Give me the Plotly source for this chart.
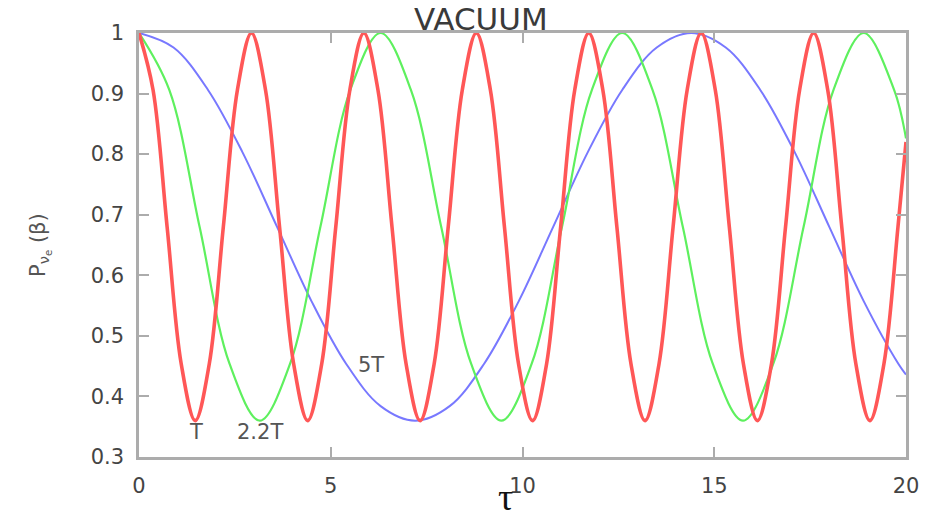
import plotly.graph_objects as go

# Survival probability vs tau for three oscillation periods
red_x = [0, 0.367, 0.733, 1.100, 1.466, 1.833, 2.199, 2.566, 2.932, 3.299, 3.665, 4.032,
         4.398, 4.765, 5.131, 5.498, 5.864, 6.231, 6.597, 6.964, 7.330, 7.697, 8.063, 8.430,
         8.796, 9.163, 9.529, 9.896, 10.262, 10.629, 10.995, 11.362, 11.728, 12.095, 12.461,
         12.828, 13.194, 13.561, 13.927, 14.294, 14.660, 15.027, 15.393, 15.760, 16.126,
         16.493, 16.859, 17.226, 17.592, 17.959, 18.325, 18.692, 19.058, 19.425, 19.791, 20.0]
red_y = [1, 0.906, 0.68, 0.454, 0.36, 0.454, 0.68, 0.906,
         1, 0.906, 0.68, 0.454, 0.36, 0.454, 0.68, 0.906,
         1, 0.906, 0.68, 0.454, 0.36, 0.454, 0.68, 0.906,
         1, 0.906, 0.68, 0.454, 0.36, 0.454, 0.68, 0.906,
         1, 0.906, 0.68, 0.454, 0.36, 0.454, 0.68, 0.906,
         1, 0.906, 0.68, 0.454, 0.36, 0.454, 0.68, 0.906,
         1, 0.906, 0.68, 0.454, 0.36, 0.454, 0.68, 0.82]

green_x = [0, 0.79, 1.58, 2.36, 3.15, 3.94, 4.73, 5.51, 6.30, 7.09, 7.88, 8.66, 9.45,
           10.24, 11.03, 11.81, 12.60, 13.39, 14.18, 14.96, 15.75, 16.54, 17.33, 18.11,
           18.90, 19.69, 20.0]
green_y = [1, 0.906, 0.68, 0.454, 0.36, 0.454, 0.68, 0.906,
           1, 0.906, 0.68, 0.454, 0.36, 0.454, 0.68, 0.906,
           1, 0.906, 0.68, 0.454, 0.36, 0.454, 0.68, 0.906,
           1, 0.906, 0.826]

blue_x = [0, 0.9, 1.8, 2.7, 3.6, 4.5, 5.4, 6.3, 7.2, 8.1, 9.0, 9.9, 10.8, 11.7, 12.6,
          13.5, 14.4, 15.3, 16.2, 17.1, 18.0, 18.9, 19.8, 20.0]
blue_y = [1, 0.976, 0.906, 0.803, 0.68, 0.557, 0.454, 0.384,
          0.36, 0.384, 0.454, 0.557, 0.68, 0.803, 0.906, 0.976,
          1, 0.976, 0.906, 0.803, 0.68, 0.557, 0.454, 0.436]

x_ticks = [0, 5, 10, 15, 20]
y_ticks = [0.3, 0.4, 0.5, 0.6, 0.7, 0.8, 0.9, 1.0]
y_tick_labels = ["0.3", "0.4", "0.5", "0.6", "0.7", "0.8", "0.9", "1"]

curve_labels = ["T", "2.2T", "5T"]
curve_label_x = [1.48, 3.16, 6.06]
curve_label_y = [0.342, 0.342, 0.452]

fig = go.Figure()
fig.add_trace(go.Scatter(x=blue_x, y=blue_y, mode="lines",
                         line=dict(color="#7878ff", width=2, shape="spline")))
fig.add_trace(go.Scatter(x=green_x, y=green_y, mode="lines",
                         line=dict(color="#5ef05e", width=2.2, shape="spline")))
fig.add_trace(go.Scatter(x=red_x, y=red_y, mode="lines",
                         line=dict(color="#ff5757", width=3.6, shape="spline")))

axis_common = dict(
    showline=True, mirror="ticks", linecolor="#acacac", linewidth=2.5,
    ticks="inside", ticklen=10, tickwidth=2, tickcolor="#acacac",
    showgrid=False, zeroline=False,
    tickfont=dict(family="DejaVu Sans", size=21, color="#444444"),
)

fig.update_xaxes(range=[0, 20], tickvals=x_ticks, ticklabelstandoff=8, **axis_common)
fig.update_yaxes(range=[0.3, 1.0], tickvals=y_ticks, ticktext=y_tick_labels,
                 ticklabelstandoff=8, **axis_common)

annotations = [
    dict(text="VACUUM", xref="paper", yref="paper", x=0.4456, y=1, yshift=14,
         xanchor="center", yanchor="middle", showarrow=False,
         font=dict(family="DejaVu Sans", size=31, color="#3a3a3a")),
    dict(text="τ", xref="paper", yref="paper", x=0.478, y=0, yshift=-40,
         xanchor="center", yanchor="middle", showarrow=False,
         font=dict(family="Liberation Serif", size=38, color="#111111")),
    dict(text="P<sub>ν<sub>e</sub></sub> (β)", xref="paper", yref="paper", x=0, xshift=-99,
         y=0.5, xanchor="center", yanchor="middle", textangle=-90, showarrow=False,
         font=dict(family="DejaVu Sans", size=21, color="#555555")),
]
for t, lx, ly in zip(curve_labels, curve_label_x, curve_label_y):
    annotations.append(dict(text=t, x=lx, y=ly, xref="x", yref="y", showarrow=False,
                            xanchor="center", yanchor="middle",
                            font=dict(family="DejaVu Sans", size=21, color="#555555")))

fig.update_layout(
    width=931, height=514, autosize=False,
    margin=dict(l=139, r=20, t=33, b=57),
    paper_bgcolor="white", plot_bgcolor="white",
    showlegend=False, annotations=annotations,
)

fig.write_html("out.html")
